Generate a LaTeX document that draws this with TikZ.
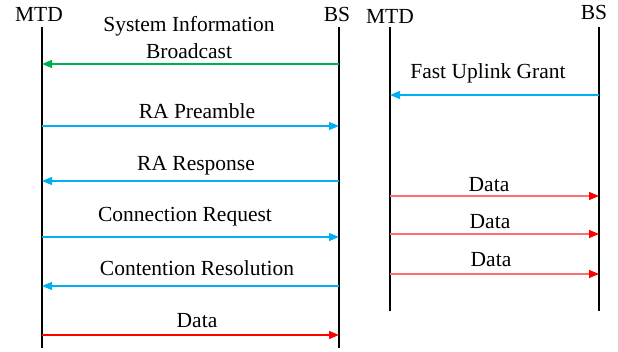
\documentclass[tikz,border=0pt]{standalone}
\usepackage{fontspec}
\setmainfont{Liberation Serif}
\usetikzlibrary{arrows.meta}
\definecolor{msggreen}{RGB}{0,176,80}
\definecolor{msgblue}{RGB}{0,176,240}
\definecolor{msgred}{RGB}{255,0,0}
\definecolor{msgpink}{RGB}{255,110,110}
\tikzset{
  life/.style={line width=2pt},
  msg/.style={line width=1.2pt,-{Triangle[length=10pt,width=8pt]}},
  datamsg/.style={line width=1.2pt,msgpink,-{Triangle[length=10pt,width=8pt,color=msgred]}},
  lbl/.style={font=\fontsize{21.5}{27}\selectfont,inner sep=0pt,anchor=base},
}
\begin{document}
\begin{tikzpicture}[x=1pt,y=-1pt]
    \useasboundingbox (0,0) rectangle (618,352);
    % left chart: random access procedure
    \node[lbl] (mtdA) at (39,22) {MTD};
    \node[lbl] (bsA) at (337,22) {BS};
    \coordinate (mtdAtop) at (42,27);
    \coordinate (mtdAend) at (42,348);
    \coordinate (bsAtop) at (339,27);
    \coordinate (bsAend) at (339,348);
    \draw[life] (mtdAtop) -- (mtdAend);
    \draw[life] (bsAtop) -- (bsAend);
    \foreach \n/\y in {1/64,2/126,3/181,4/237,5/286,6/335}{
        \coordinate (a\n) at (42,\y);
        \coordinate (b\n) at (339,\y);
    }
    \draw[msg,msggreen] (b1) -- (a1);
    \draw[msg,msgblue] (a2) -- (b2);
    \draw[msg,msgblue] (b3) -- (a3);
    \draw[msg,msgblue] (a4) -- (b4);
    \draw[msg,msgblue] (b5) -- (a5);
    \draw[msg,msgred] (a6) -- (b6);
    \node[lbl,align=center] (sib) at (189,59) {System Information\\Broadcast};
    \node[lbl] (pre) at (197,119) {RA Preamble};
    \node[lbl] (rsp) at (196,171) {RA Response};
    \node[lbl] (req) at (185,222) {Connection Request};
    \node[lbl] (res) at (197,276) {Contention Resolution};
    \node[lbl] (datA) at (197,327) {Data};
    % right chart: fast uplink grant
    \node[lbl] (mtdB) at (390,24) {MTD};
    \node[lbl] (bsB) at (594,20) {BS};
    \coordinate (mtdBtop) at (390,27);
    \coordinate (mtdBend) at (390,311);
    \coordinate (bsBtop) at (599,27);
    \coordinate (bsBend) at (599,311);
    \draw[life] (mtdBtop) -- (mtdBend);
    \draw[life] (bsBtop) -- (bsBend);
    \foreach \n/\y in {1/95,2/196,3/234,4/274}{
        \coordinate (c\n) at (390,\y);
        \coordinate (d\n) at (599,\y);
    }
    \draw[msg,msgblue] (d1) -- (c1);
    \draw[datamsg] (c2) -- (d2);
    \draw[datamsg] (c3) -- (d3);
    \draw[datamsg] (c4) -- (d4);
    \node[lbl] (fug) at (488,79) {Fast Uplink Grant};
    \node[lbl] (datB) at (489,192) {Data};
    \node[lbl] (datC) at (490,229) {Data};
    \node[lbl] (datD) at (491,267) {Data};
\end{tikzpicture}
\end{document}
